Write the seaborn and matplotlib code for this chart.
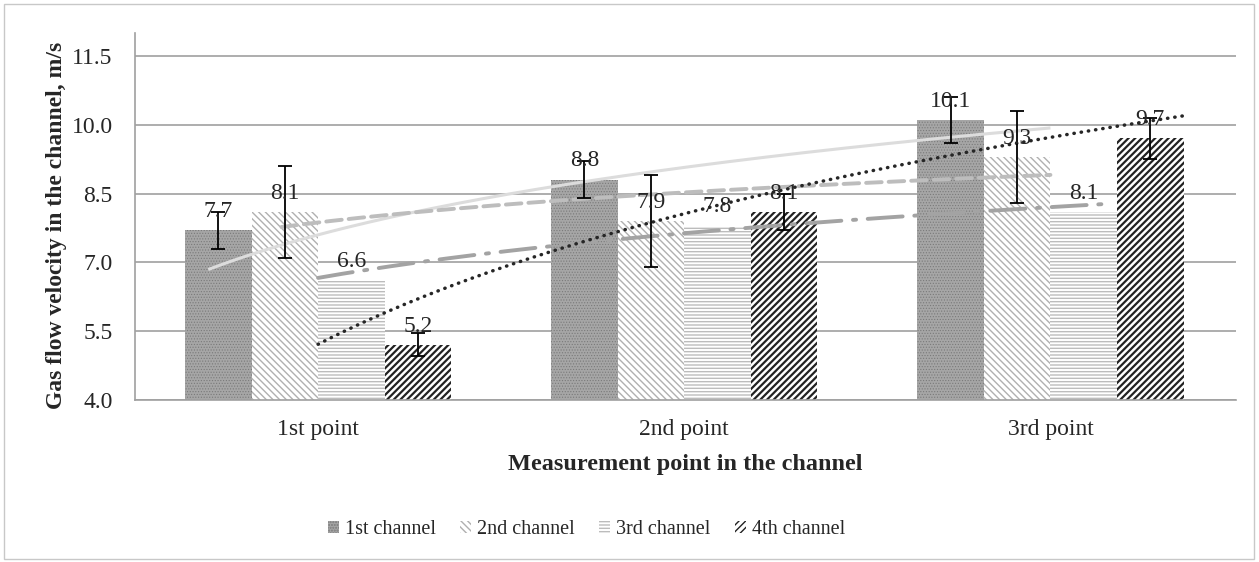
import numpy as np
import pandas as pd
import matplotlib.pyplot as plt
import seaborn as sns
from matplotlib.patches import Patch, Rectangle

# Data
points = ['1st point', '2nd point', '3rd point']
channels = ['1st channel', '2nd channel', '3rd channel', '4th channel']
ch1 = [7.7, 8.8, 10.1]
ch2 = [8.1, 7.9, 9.3]
ch3 = [6.6, 7.8, 8.1]
ch4 = [5.2, 8.1, 9.7]
err1 = [0.4, 0.4, 0.5]
err2 = [1.0, 1.0, 1.0]
err3 = [0.0, 0.0, 0.0]
err4 = [0.25, 0.4, 0.45]
y_ticks = [4.0, 5.5, 7.0, 8.5, 10.0, 11.5]

values = [ch1, ch2, ch3, ch4]
errors = [err1, err2, err3, err4]

sns.set_style('white')
plt.rcParams['font.family'] = ['Liberation Serif', 'DejaVu Serif']
plt.rcParams['hatch.linewidth'] = 1.0

df = pd.DataFrame({
    'point': points * 4,
    'channel': np.repeat(channels, 3),
    'velocity': ch1 + ch2 + ch3 + ch4,
})

# fill patterns (excel-like greyscale)
bar_styles = [
    dict(face='#a6a6a6', edge='#7a7a7a', hatch='......', hlw=0.5),
    dict(face='white', edge='#b0b0b0', hatch='\\\\\\\\\\', hlw=1.0),
    dict(face='white', edge='#bcbcbc', hatch='-----', hlw=1.0),
    dict(face='white', edge='#222222', hatch='/////', hlw=1.6),
]
# log trendlines, x-range in category units (1-based)
trend_styles = [
    dict(color='#dcdcdc', lw=2.2, ls='-', span=(0.7, 3.0)),
    dict(color='#bdbdbd', lw=2.8, ls=(0, (4, 1.8)), span=(0.9, 3.0)),
    dict(color='#a3a3a3', lw=2.8, ls=(0, (9, 3, 0.8, 3)), span=(1.0, 3.17)),
    dict(color='#262626', lw=2.5, ls=(0, (0.1, 2.0)), span=(1.0, 3.37)),
]

fig = plt.figure(figsize=(12.59, 5.62), dpi=100)
ax = fig.add_axes([0.1072, 0.2883, 0.8745, 0.653])

sns.barplot(data=df, x='point', y='velocity', hue='channel', errorbar=None,
            width=0.727, ax=ax, legend=False, zorder=2)
bar_conts = list(ax.containers)

for i, cont in enumerate(bar_conts):
    st = bar_styles[i]
    for p in cont:
        p.set_facecolor(st['face'])
        p.set_edgecolor(st['edge'])
        p.set_hatch(st['hatch'])
        p.set_linewidth(0)
        if hasattr(p, 'set_hatch_linewidth'):
            p.set_hatch_linewidth(st['hlw'])

# trendlines
xlog = np.log(np.arange(1, 4))
for i, vals in enumerate(values):
    st = trend_styles[i]
    b, a = np.polyfit(xlog, vals, 1)
    xs = np.linspace(st['span'][0], st['span'][1], 200)
    ax.plot(xs - 1, a + b * np.log(xs), color=st['color'], lw=st['lw'],
            ls=st['ls'], dash_capstyle='round', solid_capstyle='butt', zorder=4)

# error bars and value labels
for i, cont in enumerate(bar_conts):
    xs = [p.get_x() + p.get_width() / 2 for p in cont]
    if any(e > 0 for e in errors[i]):
        ax.errorbar(xs, values[i], yerr=errors[i], fmt='none', ecolor='black',
                    elinewidth=1.3, capsize=5, capthick=1.3, zorder=5)
    ax.bar_label(cont, labels=[f'{v:.1f}' for v in values[i]], padding=6,
                 fontsize=17, zorder=6)

ax.set_ylim(4, 12)
ax.set_yticks(y_ticks)
ax.set_yticklabels([f'{t:.1f}' for t in y_ticks])
ax.grid(axis='y', color='#a0a0a0', lw=1.2)
ax.set_axisbelow(True)
ax.tick_params(axis='both', length=0, labelsize=17)
ax.tick_params(axis='y', pad=16)
ax.tick_params(axis='x', pad=14)
for s in ['top', 'right']:
    ax.spines[s].set_visible(False)
for s in ['left', 'bottom']:
    ax.spines[s].set_color('#a0a0a0')
    ax.spines[s].set_linewidth(1.2)

ax.set_ylabel('Gas flow velocity in the channel, m/s', fontsize=17,
              fontweight='bold')
ax.yaxis.set_label_coords(-0.0615, 0.477)
ax.set_xlabel('Measurement point in the channel', fontsize=17.5,
              fontweight='bold', labelpad=10)

handles = [Patch(facecolor=st['face'], edgecolor=st['edge'], hatch=st['hatch'],
                 linewidth=0) for st in bar_styles]
fig.legend(handles, channels, loc='center', bbox_to_anchor=(0.466, 0.058),
           ncol=4, frameon=False, fontsize=14.5, handlelength=0.55,
           handleheight=0.55, handletextpad=0.3, columnspacing=1.2)

fig.add_artist(Rectangle((0.003, 0.006), 0.993, 0.986, transform=fig.transFigure,
                         fill=False, edgecolor='#c8c8c8', lw=1))

fig.savefig('out.png', dpi=100)
